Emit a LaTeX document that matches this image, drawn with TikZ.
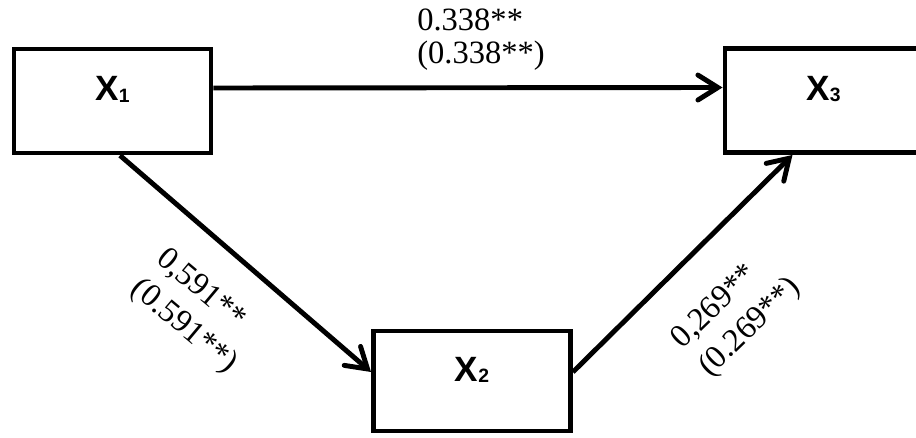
\documentclass[tikz,border=0pt]{standalone}
\usepackage{fontspec}
\setmainfont{Liberation Serif}
\newfontfamily\arialfont{Liberation Sans}
\usetikzlibrary{positioning, arrows.meta}
\newcommand{\varsub}[1]{\raisebox{-0.6pt}{\fontsize{11}{12}\selectfont #1}}

\begin{document}
\begin{tikzpicture}[
    box/.style={draw, line width=2.8pt, minimum width=3.94cm, minimum height=2.08cm,
        text height=0.3cm, text depth=0.3cm, font=\arialfont\bfseries\fontsize{20}{22}\selectfont},
    link/.style={line width=2.8pt, -{Straight Barb[length=0.4cm, width=0.5cm, line cap=round]}},
    coef/.style={align=left, font=\fontsize{18.5}{18.7}\selectfont},
    slant/.style={align=left, font=\fontsize{18.5}{22.5}\selectfont}
]
    \useasboundingbox (0,0) rectangle (18.32, 8.74);

    % Variables
    \node[box] (x1) at (2.25, 6.72) {X\varsub{1}};
    \node[box] (x3) at (16.47, 6.73) {X\varsub{3}};
    \node[box, minimum height=2cm] (x2) at (9.44, 1.12) {X\varsub{2}};

    % Paths
    \draw[link] ([yshift=0.26cm]x1.east) -- ([yshift=0.26cm]x3.west);
    \draw[link] ([xshift=0.15cm]x1.south) -- ([yshift=0.18cm]x2.west);
    \draw[link] ([yshift=0.18cm]x2.east) -- ([xshift=-0.62cm]x3.south);

    % Coefficients
    \node[coef] (c13) at (9.62, 7.94) {0.338**\\(0.338**)};
    \node[slant, rotate=-40] (c12) at (3.92, 2.5) {0,591**\\(0.591**)};
    \node[slant, rotate=44] (c23) at (14.74, 2.46) {0,269**\\(0.269**)};
\end{tikzpicture}
\end{document}
